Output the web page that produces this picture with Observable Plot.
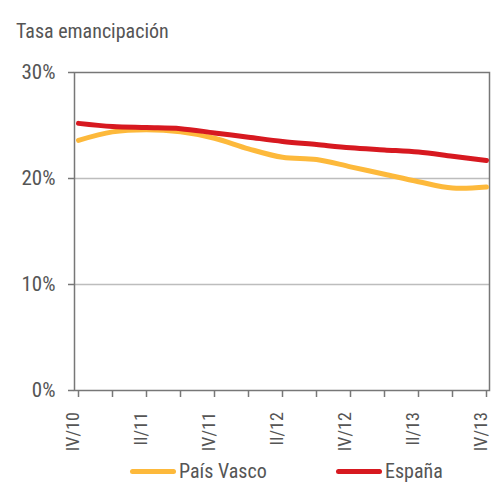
<!DOCTYPE html>
<html>
<head>
<meta charset="utf-8">
<script src="https://cdn.jsdelivr.net/npm/d3@7"></script>
<script src="https://cdn.jsdelivr.net/npm/@observablehq/plot@0.6"></script>
<style>
  body { margin: 0; background: #fff; width: 503px; height: 483px; overflow: hidden; position: relative;
         font-family: "Liberation Sans Narrow", "Arial Narrow", "Roboto Condensed", "Liberation Sans", sans-serif; color: #555; }
  #title { position: absolute; left: 16px; top: 19px; font-size: 20px; color: #555; z-index: 2; }
  #chart { position: absolute; left: 0; top: 0; z-index: 1; }
  #legend { position: absolute; top: 460px; left: 0; width: 503px; font-size: 20px; line-height: 22px; color: #555; z-index: 2; }
  .item { position: absolute; display: flex; align-items: center; }
  .sw { width: 46px; height: 5px; border-radius: 3px; margin-right: 3px; }
</style>
</head>
<body>
<div id="title">Tasa emancipación</div>
<div id="chart"></div>
<div id="legend"></div>
<script>
const quarters = ["IV/10","I/11","II/11","III/11","IV/11","I/12","II/12","III/12","IV/12","I/13","II/13","III/13","IV/13"];
const tickLabels = ["IV/10","II/11","IV/11","II/12","IV/12","II/13","IV/13"];
const paisVasco = [23.6, 24.4, 24.6, 24.4, 23.8, 22.8, 22.0, 21.8, 21.1, 20.4, 19.7, 19.1, 19.2];
const espana    = [25.2, 24.9, 24.8, 24.7, 24.3, 23.9, 23.5, 23.2, 22.9, 22.7, 22.5, 22.1, 21.7];
const seriesNames = ["País Vasco", "España"];
const seriesColors = ["#FDB93B", "#D71920"];
const yTicks = [0, 10, 20, 30];

const data = [];
quarters.forEach((q, i) => {
  data.push({q, serie: seriesNames[0], v: paisVasco[i]});
  data.push({q, serie: seriesNames[1], v: espana[i]});
});

const font = '"Liberation Sans Narrow", "Arial Narrow", "Roboto Condensed", "Liberation Sans", sans-serif';

const chart = Plot.plot({
  width: 503,
  height: 460,
  marginTop: 72,
  marginBottom: 70,
  marginLeft: 74,
  marginRight: 14,
  style: {fontFamily: font, fontSize: "20px", color: "#555", background: "transparent", overflow: "visible"},
  x: {type: "point", domain: quarters, padding: 0},
  y: {domain: [0, 30]},
  color: {domain: seriesNames, range: seriesColors},
  marks: [
    Plot.gridY([10, 20], {stroke: "#bdbdbd", strokeOpacity: 1, strokeWidth: 1.5}),
    Plot.frame({stroke: "#777", strokeWidth: 1.5}),
    Plot.axisY(yTicks, {tickSize: 6, tickPadding: 13, tickFormat: d => d + "%", stroke: "#777", strokeWidth: 1.5, fontSize: 21, fill: "#555", label: null}),
    Plot.axisX(quarters, {tickSize: 7, tickFormat: () => "", stroke: "#777", strokeWidth: 1.5, label: null}),
    Plot.text(tickLabels, {x: d => d, frameAnchor: "bottom", rotate: -90, textAnchor: "end", fontSize: 18, fill: "#555"}),
    Plot.line(data, {x: "q", y: "v", z: "serie", stroke: "serie", strokeWidth: 5, curve: "catmull-rom"})
  ]
});
document.getElementById("chart").appendChild(chart);

// push the rotated quarter labels below the tick marks: wrap their mark group in a screen-space offset
const labelTexts = Array.from(chart.querySelectorAll("text")).filter(t => tickLabels.includes(t.textContent));
if (labelTexts.length) {
  let markGroup = labelTexts[0];
  while (markGroup.parentNode && markGroup.parentNode !== chart) markGroup = markGroup.parentNode;
  const top = Math.min(...labelTexts.map(t => t.getBoundingClientRect().top));
  const chartTop = chart.getBoundingClientRect().top;
  const delta = 412 - (top - chartTop);
  const wrap = document.createElementNS("http://www.w3.org/2000/svg", "g");
  wrap.setAttribute("transform", `translate(0,${delta})`);
  markGroup.parentNode.insertBefore(wrap, markGroup);
  wrap.appendChild(markGroup);
}

const legend = document.getElementById("legend");
const lefts = [130, 336];
seriesNames.forEach((n, i) => {
  const it = document.createElement("div");
  it.className = "item";
  it.style.left = lefts[i] + "px";
  it.innerHTML = `<div class="sw" style="background:${seriesColors[i]}"></div><span>${n}</span>`;
  legend.appendChild(it);
});
</script>
</body>
</html>
